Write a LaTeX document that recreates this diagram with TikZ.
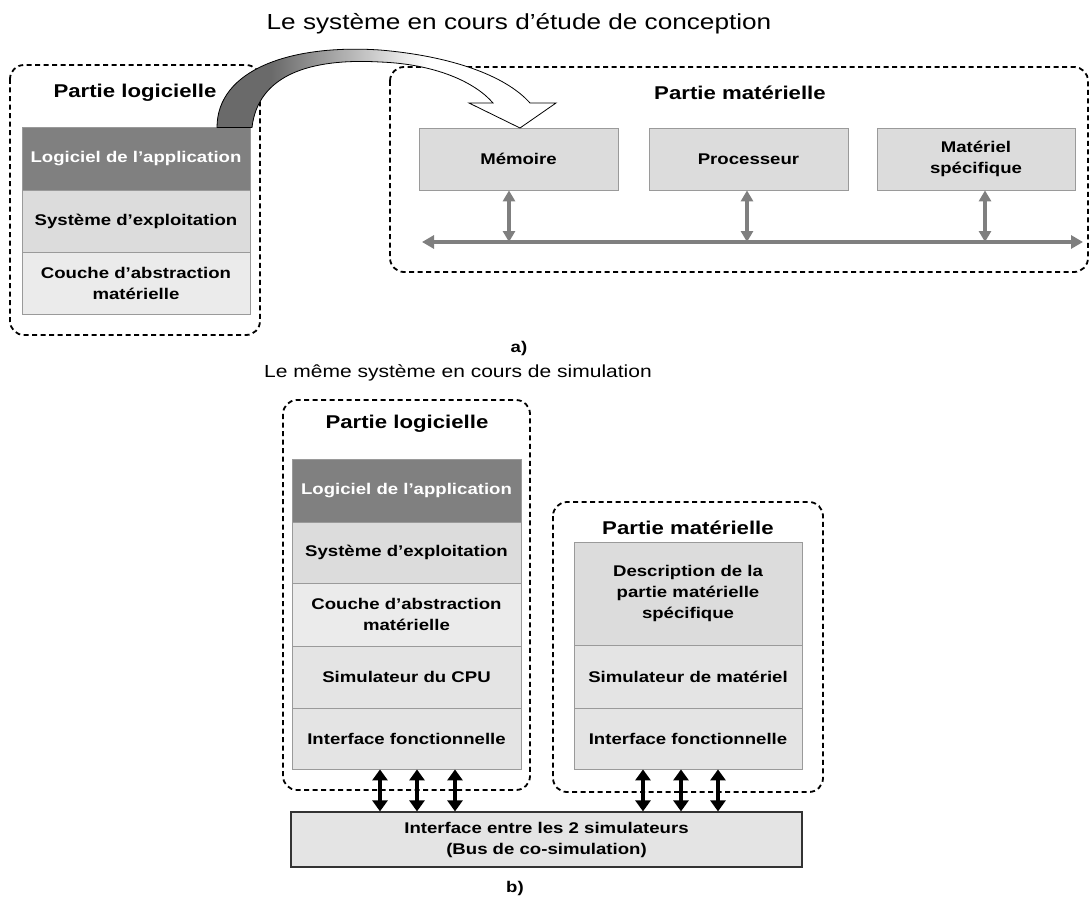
\documentclass[tikz,border=0pt]{standalone}
\usepackage{fontspec}
\setmainfont{Liberation Sans}[FakeStretch=1.2]
\usetikzlibrary{arrows.meta}
\definecolor{appdark}{HTML}{808080}
\definecolor{osgray}{HTML}{DCDCDC}
\definecolor{hallight}{HTML}{EBEBEB}
\definecolor{simgray}{HTML}{E4E4E4}
\definecolor{hwgray}{HTML}{DCDCDC}
\definecolor{edgegray}{HTML}{9A9A9A}
\definecolor{busgray}{HTML}{7F7F7F}
\definecolor{band}{HTML}{6A6A6A}
\pgfdeclarehorizontalshading{arrsh}{100bp}{color(0bp)=(band); color(33bp)=(band); color(56bp)=(white); color(100bp)=(white)}
\begin{document}
\begin{tikzpicture}[x=1pt,y=-1pt,
  dbox/.style={draw=black, line width=1.8pt, dash pattern=on 5pt off 3.5pt, rounded corners=14pt},
  layer/.style={draw=edgegray, line width=0.8pt, inner sep=0pt, align=center,
    font=\bfseries\fontsize{15.5}{21}\selectfont, text=black},
  ptitle/.style={font=\bfseries\fontsize{18.5}{22}\selectfont, inner sep=0pt},
  mtitle/.style={font=\fontsize{21.8}{26}\selectfont, inner sep=0pt},
  sublabel/.style={font=\bfseries\fontsize{15.5}{20}\selectfont, inner sep=0pt},
  garrow/.style={{Triangle[width=12pt,length=11pt]}-{Triangle[width=12pt,length=11pt]}, line width=3.5pt, draw=busgray, fill=busgray},
  busline/.style={{Triangle[width=13pt,length=12pt]}-{Triangle[width=13pt,length=12pt]}, line width=4.5pt, draw=busgray, fill=busgray},
  barrow/.style={{Triangle[width=15pt,length=11pt]}-{Triangle[width=15pt,length=11pt]}, line width=4.5pt, draw=black, fill=black}
]
\useasboundingbox (0,0) rectangle (1090,907);

% ---------- a) ----------
\node[mtitle] (t1) at (519,24) {Le système en cours d’étude de conception};

\draw[dbox] (10,65) rectangle (260,335);
\node[ptitle] (pl1) at (135,93) {Partie logicielle};
\node[layer, fill=appdark, text=white, minimum width=228pt, minimum height=63pt] (a1) at (136,158.5) {Logiciel de l’application};
\node[layer, fill=osgray, minimum width=228pt, minimum height=62pt] (a2) at (136,221) {Système d’exploitation};
\node[layer, fill=hallight, minimum width=228pt, minimum height=62pt] (a3) at (136,283) {Couche d’abstraction\\matérielle};

\draw[dbox] (390,67) rectangle (1088,272);
\node[ptitle] (pm1) at (740,93) {Partie matérielle};
\node[layer, fill=hwgray, minimum width=199pt, minimum height=62pt] (mem) at (518.5,159) {Mémoire};
\node[layer, fill=hwgray, minimum width=199pt, minimum height=62pt] (proc) at (748.5,159) {Processeur};
\node[layer, fill=hwgray, minimum width=198pt, minimum height=62pt] (mat) at (976,159) {Matériel\\spécifique};

\coordinate (busL) at (422,242);
\coordinate (busR) at (1083,242);
\draw[busline] (busL) -- (busR);
\draw[garrow] ([xshift=-9.5pt]mem.south) -- ([xshift=-9.5pt]mem.south |- busL);
\draw[garrow] ([xshift=-1.5pt]proc.south) -- ([xshift=-1.5pt]proc.south |- busL);
\draw[garrow] ([xshift=9pt]mat.south) -- ([xshift=9pt]mat.south |- busL);

% curved arrow
\shadedraw[shading=arrsh, draw=black, line width=0.8pt]
  (217,127.5) .. controls (217,70) and (290,44) .. (380,50)
  .. controls (450,56) and (505,75) .. (530,103)
  -- (556,103) -- (520,128) -- (469,103) -- (493,103)
  .. controls (475,82) and (435,64) .. (380,62)
  .. controls (310,58) and (258,75) .. (252,127.5) -- cycle;

\node[sublabel] (la) at (519,348) {a)};

% ---------- b) ----------
\node[mtitle, font=\fontsize{17.5}{22}\selectfont] (t2) at (458,373) {Le même système en cours de simulation};

\draw[dbox] (283,400) rectangle (530,790);
\node[ptitle] (pl2) at (407,424) {Partie logicielle};
\node[layer, fill=appdark, text=white, minimum width=229pt, minimum height=63pt] (b1) at (406.5,490.5) {Logiciel de l’application};
\node[layer, fill=osgray, minimum width=229pt, minimum height=61pt] (b2) at (406.5,552.5) {Système d’exploitation};
\node[layer, fill=hallight, minimum width=229pt, minimum height=63pt] (b3) at (406.5,614.5) {Couche d’abstraction\\matérielle};
\node[layer, fill=simgray, minimum width=229pt, minimum height=62pt] (b4) at (406.5,677) {Simulateur du CPU};
\node[layer, fill=simgray, minimum width=229pt, minimum height=61pt] (b5) at (406.5,738.5) {Interface fonctionnelle};

\draw[dbox] (553,502) rectangle (823,792);
\node[ptitle] (pm2) at (688,528) {Partie matérielle};
\node[layer, fill=hwgray, minimum width=228pt, minimum height=103pt] (c1) at (688,593.5) {Description de la\\partie matérielle\\spécifique};
\node[layer, fill=simgray, minimum width=228pt, minimum height=63pt] (c2) at (688,676.5) {Simulateur de matériel};
\node[layer, fill=simgray, minimum width=228pt, minimum height=61pt] (c3) at (688,738.5) {Interface fonctionnelle};

\node[layer, draw=black!80, line width=1.2pt, fill=simgray, minimum width=511pt, minimum height=55pt] (ie) at (546.5,839.5) {Interface entre les 2 simulateurs\\(Bus de co-simulation)};

\foreach \xx [count=\i] in {380,417,455}{
  \coordinate (lx\i) at (\xx,0);
  \draw[barrow] (b5.south -| lx\i) -- (ie.north -| lx\i);
}
\foreach \xx [count=\i] in {643,681,718}{
  \coordinate (rx\i) at (\xx,0);
  \draw[barrow] (c3.south -| rx\i) -- (ie.north -| rx\i);
}

\node[sublabel] (lb) at (515,888) {b)};
\end{tikzpicture}
\end{document}
